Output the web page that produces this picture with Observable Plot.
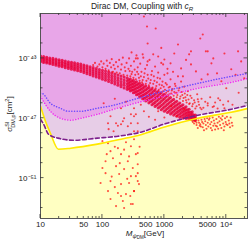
<!DOCTYPE html>
<html><head><meta charset="utf-8">
<script src="https://cdn.jsdelivr.net/npm/d3@7"></script>
<script src="https://cdn.jsdelivr.net/npm/@observablehq/plot@0.6"></script>
<style>body{margin:0;background:#fff} svg{display:block}</style>
</head><body><div id="chart"></div>
<script>
// ---- data (log10 M [GeV], log10 sigma [cm^2]) ----
const xTickValues = [10, 50, 100, 500, 1000, 5000, 10000];
const xTickLabels = ["10", "50", "100", "500", "1000", "5000", "10\u2074"];
const yTickValues = [1e-43, 1e-47, 1e-51];
const yTickLabels = ["10\u207B\u2074\u00B3", "10\u207B\u2074\u2077", "10\u207B\u2075\u00B9"];

const blueM = [1, 1.03, 1.16, 1.32, 1.44, 1.65, 1.92, 2.18, 2.46, 2.99, 3.54, 4.08, 4.36];
const blueS = [-45.33, -45.35, -46.0, -46.33, -46.53, -46.53, -46.33, -46.13, -45.8, -45.2, -44.67, -44.2, -44.0];
const magM = [1, 1.16, 1.32, 1.49, 1.65, 1.92, 2.18, 2.46, 2.99, 3.54, 4.08, 4.36];
const magS = [-45.53, -46.53, -47.0, -47.13, -47.0, -46.73, -46.4, -46.07, -45.53, -45.0, -44.6, -44.33];
const dashM = [1, 1.05, 1.13, 1.28, 1.53, 1.92, 2.25, 2.62, 2.99, 3.54, 4.08, 4.36];
const dashS = [-47.07, -47.4, -48.07, -48.33, -48.47, -48.33, -48.2, -47.93, -47.4, -46.8, -46.4, -46.13];
const yelM = [1, 1.08, 1.16, 1.29, 1.49, 1.92, 2.30, 2.62, 2.99, 3.54, 4.08, 4.36];
const yelS = [-46.2, -47.2, -48.0, -49.07, -49.0, -48.73, -48.4, -48.1, -47.6, -47.0, -46.6, -46.33];

const bandM = [1.00,1.05,1.10,1.15,1.20,1.25,1.30,1.35,1.40,1.45,1.50,1.55,1.60,1.65,1.70,1.75,1.80,1.85,1.90,1.95,
  2.00,2.05,2.10,2.15,2.20,2.25,2.30,2.35,2.40,2.45,2.50,2.55,2.60,2.65,2.70,2.75,2.80,2.85,2.90,2.95,
  3.00,3.05,3.10,3.15,3.20,3.25,3.30,3.35,3.40,3.45,3.50];
const bandS = [
 [-42.84,-42.95,-43.05,-43.14,-43.22],[-42.88,-42.99,-43.08,-43.18,-43.27],[-42.92,-43.02,-43.13,-43.22,-43.31],
 [-42.97,-43.08,-43.17,-43.27,-43.36],[-43.00,-43.11,-43.21,-43.31,-43.41],[-43.05,-43.16,-43.27,-43.36,-43.46],
 [-43.09,-43.20,-43.31,-43.41,-43.52],[-43.13,-43.25,-43.35,-43.46,-43.56],[-43.17,-43.29,-43.40,-43.51,-43.62],
 [-43.22,-43.34,-43.45,-43.56,-43.67],[-43.26,-43.38,-43.49,-43.60,-43.72],[-43.30,-43.42,-43.54,-43.66,-43.77],
 [-43.34,-43.47,-43.59,-43.71,-43.83],[-43.38,-43.51,-43.63,-43.76,-43.88],[-43.44,-43.57,-43.70,-43.83,-43.95],
 [-43.50,-43.63,-43.76,-43.89,-44.02],[-43.56,-43.70,-43.83,-43.96,-44.09],[-43.62,-43.76,-43.90,-44.03,-44.17],
 [-43.68,-43.82,-43.96,-44.10,-44.24],[-43.74,-43.89,-44.03,-44.17,-44.31],[-43.80,-43.95,-44.10,-44.25,-44.39],
 [-43.85,-44.01,-44.16,-44.31,-44.46],[-43.91,-44.07,-44.23,-44.39,-44.54],[-43.97,-44.14,-44.30,-44.46,-44.62],
 [-44.04,-44.21,-44.38,-44.55,-44.71],[-44.11,-44.29,-44.46,-44.63,-44.80],[-44.18,-44.36,-44.54,-44.72,-44.89],
 [-44.25,-44.44,-44.62,-44.80,-44.98],[-44.32,-44.51,-44.70,-44.89,-45.07],[-44.38,-44.58,-44.78,-44.98,-45.17],
 [-44.47,-44.68,-44.89,-45.10,-45.30],[-44.56,-44.78,-45.00,-45.22,-45.43],[-44.66,-44.89,-45.12,-45.35,-45.57],
 [-44.75,-44.99,-45.23,-45.47,-45.70],[-44.85,-45.10,-45.35,-45.60,-45.84],[-44.94,-45.20,-45.46,-45.72,-45.97],
 [-45.03,-45.30,-45.57,-45.84,-46.10],[-45.12,-45.40,-45.67,-45.94,-46.21],[-45.21,-45.49,-45.77,-46.05,-46.32],
 [-45.30,-45.59,-45.87,-46.15,-46.43],[-45.40,-45.69,-45.97,-46.25,-46.53],[-45.50,-45.79,-46.07,-46.35,-46.62],
 [-45.62,-45.90,-46.17,-46.44,-46.71],[-45.74,-46.01,-46.27,-46.53,-46.79],[-45.86,-46.12,-46.37,-46.62,-46.87],
 [-45.98,-46.22,-46.46,-46.70,-46.94],[-46.10,-46.33,-46.55,-46.77,-46.99],[-46.24,-46.44,-46.63,-46.82,-47.02],
 [-46.40,-46.58,-46.75,-46.92,-47.08],[-46.57,-46.72,-46.87,-47.00,-47.12],[-46.78,-46.90,-47.00,-47.08,-47.15]];

const bandM2 = [2.425,2.475,2.525,2.575,2.625,2.675,2.725,2.775,2.825,2.875,2.925,2.975,
  3.025,3.075,3.125,3.175,3.225,3.275,3.325,3.375,3.425,3.475];
const bandS2 = [
 [-44.44,-44.64,-44.84,-45.03],[-44.52,-44.73,-44.93,-45.13],[-44.62,-44.84,-45.06,-45.27],[-44.72,-44.95,-45.18,-45.40],
 [-44.82,-45.06,-45.30,-45.53],[-44.92,-45.17,-45.41,-45.66],[-45.02,-45.28,-45.53,-45.78],[-45.11,-45.38,-45.64,-45.90],
 [-45.20,-45.48,-45.75,-46.02],[-45.29,-45.58,-45.85,-46.13],[-45.38,-45.67,-45.96,-46.24],[-45.48,-45.77,-46.06,-46.34],
 [-45.58,-45.87,-46.16,-46.44],[-45.69,-45.98,-46.26,-46.53],[-45.81,-46.09,-46.35,-46.62],[-45.93,-46.19,-46.45,-46.70],
 [-46.05,-46.30,-46.54,-46.78],[-46.17,-46.40,-46.62,-46.85],[-46.30,-46.50,-46.70,-46.90],[-46.44,-46.62,-46.80,-46.97],
 [-46.60,-46.76,-46.92,-47.05],[-46.78,-46.88,-47.00,-47.10]];

const cloudAbove = [[1.85,-43.45],[1.88,-43.3],[1.92,-43.55],[1.95,-43.4],[1.98,-43.2],[2.00,-43.6],[2.02,-43.35],[2.05,-43.7],
 [2.07,-43.15],[2.08,-43.5],[2.10,-43.8],[2.12,-43.3],[2.14,-43.6],[2.15,-43.05],[2.17,-43.9],[2.18,-43.45],[2.20,-43.7],
 [2.22,-43.25],[2.23,-43.95],[2.25,-43.55],[2.27,-43.1],[2.28,-44.0],[2.30,-43.75],[2.31,-43.4],[2.33,-42.95],[2.34,-44.1],
 [2.36,-43.6],[2.37,-43.85],[2.39,-43.3],[2.40,-44.15],[2.42,-43.7],[2.43,-43.0],[2.45,-44.2],[2.46,-43.5],[2.48,-43.9],
 [2.50,-44.3],[2.51,-43.2],[2.52,-43.75],[2.54,-44.4],[2.55,-42.8],[2.57,-43.6],[2.58,-44.05],[2.60,-44.5],[2.61,-43.35],
 [2.63,-43.9],[2.64,-44.6],[2.66,-42.95],[2.67,-44.25],[2.69,-43.7],[2.70,-44.7],[2.72,-43.45],[2.73,-44.1],[2.75,-44.8],
 [2.76,-43.1],[2.78,-44.45],[2.80,-43.85],[2.81,-44.95],[2.83,-44.2],[2.85,-43.55],[2.86,-45.0],[2.88,-44.6],[2.90,-43.95],
 [2.91,-45.1],[2.93,-44.35],[2.95,-43.3],[2.96,-44.8],[2.98,-45.2],[3.00,-44.1],[3.02,-44.65],[3.03,-45.3],[3.05,-43.7],
 [3.07,-44.95],[3.08,-45.4],[3.10,-44.4],[3.12,-45.15],[3.14,-43.9],[3.15,-45.5],[3.17,-44.7],[3.19,-45.3],[3.20,-45.6],
 [3.22,-44.2],[3.24,-45.0],[3.25,-45.7],[3.27,-44.55],[3.29,-45.45],[3.30,-45.85],[3.32,-44.9],[3.34,-45.6],[3.36,-45.95],
 [3.38,-45.2],[3.40,-46.05],[3.42,-45.5],[3.45,-46.2],[3.48,-45.8],[3.50,-46.35],[3.53,-45.4],[3.56,-46.1],[3.60,-45.7],
 [3.63,-46.3],[3.66,-45.9],[3.70,-46.15],[3.74,-45.6],[3.78,-46.25],[3.82,-45.95],[3.86,-46.35],[3.90,-45.8],[3.95,-46.1],
 [2.62,-44.2],[2.65,-44.45],[2.68,-44.0],[2.71,-44.5],[2.74,-44.35],[2.77,-44.65],[2.79,-44.1],[2.82,-44.7],[2.84,-44.5],
 [2.87,-44.85],[2.89,-44.3],[2.92,-44.75],[2.94,-45.0],[2.97,-44.55],[2.99,-44.9],[3.01,-45.1],[3.04,-44.75],[3.06,-45.2],
 [3.09,-44.9],[3.11,-45.35],[3.13,-45.05],[3.16,-45.25],[3.18,-44.85],[3.21,-45.45],[3.23,-45.15],[3.26,-45.55],[3.28,-45.25],
 [3.31,-45.65],[3.33,-45.35],[3.35,-45.8],[3.37,-45.45],[3.39,-45.75],[3.41,-46.0],[3.44,-45.65],[3.46,-46.05],[3.49,-45.95],
 [3.52,-46.2],[3.55,-45.9],[3.58,-46.3],[2.56,-43.9],[2.59,-44.3],[2.53,-44.1],[2.47,-44.05],[2.44,-43.85]];

const sparseTop = [[2.67,-40.2],[2.72,-40.87],[2.86,-41.0],[3.62,-41.4],[3.58,-41.67],[3.22,-42.07],[2.73,-42.0],[3.16,-42.67],
 [3.43,-42.53],[3.67,-42.53],[2.82,-42.73],[2.9,-42.87],[2.65,-42.73],[2.57,-43.0],[2.73,-43.2],[3.0,-43.07],[2.98,-43.4],
 [3.1,-43.33],[3.79,-43.0],[3.76,-43.33],[3.97,-42.67],[3.7,-42.53],[4.19,-42.53],[3.4,-42.73],[3.43,-43.4],[4.08,-43.73],
 [4.24,-43.2],[4.29,-44.33],[3.7,-44.07],[3.92,-44.53],[3.51,-43.87],[3.27,-43.67],[2.54,-43.0],[2.47,-42.6],[2.95,-42.3],
 [3.35,-43.1],[3.85,-44.0],[4.15,-44.1],[3.6,-44.4],[4.0,-45.0],[4.2,-45.3],[3.3,-44.2],[3.05,-44.0]];

const lavenderPts = [[2.51,-46.33],[2.54,-46.73],[2.67,-46.53],[2.9,-46.53],[3.11,-46.2],[3.32,-46.4],[3.54,-45.73],[3.7,-46.0],
 [3.87,-45.67],[4.03,-45.87],[3.8,-46.2],[3.97,-46.33],[2.02,-46.0],[2.13,-46.87],[2.3,-46.33],[2.46,-46.73],[2.41,-47.53],
 [2.18,-47.87],[2.51,-47.87],[2.33,-47.2],[2.09,-47.33],[2.57,-47.33],[2.75,-46.9],[2.85,-47.1],[3.2,-46.85],[3.0,-46.95],
 [3.6,-46.4],[4.1,-46.1],[2.62,-46.1],[2.2,-45.7],[2.38,-45.9],[2.25,-47.5]];

const orangePts = [[3.46,-47.25],[3.48,-47.35],[3.50,-47.2],[3.52,-47.3],[3.52,-47.45],[3.55,-47.15],[3.56,-47.3],[3.57,-47.5],
 [3.58,-47.4],[3.60,-47.1],[3.61,-47.25],[3.62,-47.6],[3.63,-47.35],[3.65,-47.05],[3.66,-47.2],[3.67,-47.45],[3.68,-47.7],
 [3.70,-47.3],[3.71,-47.55],[3.72,-47.1],[3.73,-47.0],[3.74,-47.4],[3.75,-47.65],[3.76,-47.25],[3.78,-46.95],[3.79,-47.5],
 [3.80,-47.15],[3.81,-47.35],[3.82,-47.75],[3.84,-47.05],[3.85,-47.55],[3.86,-47.3],[3.88,-46.9],[3.89,-47.2],[3.90,-47.45],
 [3.92,-47.65],[3.93,-47.1],[3.94,-46.85],[3.95,-47.35],[3.97,-47.55],[3.98,-47.0],[3.99,-47.25],[4.01,-46.9],[4.02,-47.45],
 [4.04,-47.15],[4.06,-47.6],[4.07,-46.95],[4.09,-47.3],[4.10,-47.5],[3.59,-47.55],[3.64,-47.8],[3.69,-47.0],[3.77,-47.8],
 [3.83,-47.5],[3.87,-47.7],[3.91,-47.0],[3.96,-47.8],[4.0,-47.4],[4.05,-47.35],[3.54,-47.65]];

const verticalCloud = [[2.22,-47.33],[2.3,-47.4],[2.35,-47.0],[2.46,-47.33],[2.51,-46.87],[2.0,-48.53],[2.09,-48.67],[2.13,-49.2],
 [2.25,-49.0],[2.46,-48.87],[2.3,-49.4],[2.17,-49.67],[2.41,-49.87],[2.0,-50.33],[2.22,-50.2],[2.35,-50.4],[2.49,-50.33],
 [2.05,-50.67],[2.27,-50.73],[2.46,-50.87],[2.57,-50.67],[1.97,-51.33],[2.13,-51.2],[2.3,-51.4],[2.43,-51.33],[2.09,-51.87],
 [2.25,-52.0],[2.38,-52.07],[2.51,-51.87],[2.13,-52.4],[2.33,-52.53],[2.46,-52.73],[2.22,-52.87],[2.35,-53.0],[2.05,-49.87],
 [2.57,-49.33],[2.1,-47.73],[2.57,-47.87],[2.51,-48.4],[2.54,-49.4],[2.57,-50.07],[2.54,-50.87],[2.57,-51.2],[2.51,-51.87],
 [2.49,-52.73],[2.59,-51.4],[2.38,-48.6],[2.2,-48.9],[2.43,-49.55],[2.28,-50.0],[2.15,-50.9],[2.4,-51.05],[2.2,-51.6],
 [2.45,-52.2],[2.3,-52.2],[2.6,-48.9],[2.07,-49.4],[2.35,-49.1]];

// ---- build tables ----
const toRows = (M, S) => M.map((m, i) => ({M: 10 ** m, S: 10 ** S[i]}));
const blue = toRows(blueM, blueS), mag = toRows(magM, magS), dash = toRows(dashM, dashS), yel = toRows(yelM, yelS);
const band = [];
bandM.forEach((m, i) => bandS[i].forEach(s => band.push({M: 10 ** m, S: 10 ** s})));
bandM2.forEach((m, i) => bandS2[i].forEach(s => band.push({M: 10 ** m, S: 10 ** s})));
const pts = [];
for (const arr of [cloudAbove, sparseTop, lavenderPts, orangePts, verticalCloud])
  for (const [m, s] of arr) pts.push({M: 10 ** m, S: 10 ** s});

const YMIN = 10 ** -53.7, YMAX = 1e-40, XMIN = 10, XMAX = 2.2e4;
const PINK = "#e8a6e8", LAV = "#e7cde7", YEL = "#ffffc2";
const curve = "monotone-x";
const font = "'Liberation Sans', Arial, sans-serif";

const plot = Plot.plot({
  width: 249, height: 249,
  marginTop: 13, marginLeft: 40, marginRight: 2, marginBottom: 31,
  style: {fontFamily: font, fontSize: "8px", background: "white", color: "#222"},
  x: {type: "log", domain: [XMIN, XMAX], axis: null},
  y: {type: "log", domain: [YMIN, YMAX], axis: null},
  marks: [
    Plot.frame({fill: PINK, stroke: null}),
    Plot.areaY(mag, {x: "M", y1: () => YMIN, y2: "S", fill: LAV, curve, clip: true}),
    Plot.areaY(dash, {x: "M", y1: () => YMIN, y2: "S", fill: "white", curve, clip: true}),
    Plot.areaY(yel, {x: "M", y1: () => YMIN, y2: "S", fill: YEL, curve, clip: true}),
    Plot.dot(band, {x: "M", y: "S", r: 1.55, fill: "#e8003a", fillOpacity: 0.82, stroke: null, clip: true}),
    Plot.dot(pts, {x: "M", y: "S", r: 1.05, fill: "#ff0000", fillOpacity: 0.68, stroke: null, clip: true}),
    Plot.line(yel, {x: "M", y: "S", stroke: "#ffe800", strokeWidth: 1.6, curve, clip: true}),
    Plot.line(dash, {x: "M", y: "S", stroke: "#7d1f8c", strokeWidth: 1.6, strokeDasharray: "4,2.5", curve, clip: true}),
    Plot.line(mag, {x: "M", y: "S", stroke: "#f02cf0", strokeWidth: 1.5, strokeDasharray: "0.1,2.6", strokeLinecap: "round", curve, clip: true}),
    Plot.line(blue, {x: "M", y: "S", stroke: "#6a48ff", strokeWidth: 1.5, strokeDasharray: "0.1,2.6", strokeLinecap: "round", curve, clip: true}),
    Plot.text(xTickValues, {x: d => d, frameAnchor: "bottom", dy: 8, text: (d, i) => xTickLabels[i], fill: "#222"}),
    Plot.text(yTickValues, {y: d => d, frameAnchor: "left", dx: -4, textAnchor: "end", text: (d, i) => yTickLabels[i], fill: "#222"}),
    Plot.frame({stroke: "#555", strokeWidth: 1})
  ]
});

// inward frame ticks, positioned through the plot's own scales
const sx = plot.scale("x"), sy = plot.scale("y");
const svg = d3.select(plot);
const g = svg.append("g").attr("stroke", "#333").attr("stroke-width", 0.8);
const x0 = 40, x1 = 247, y0 = 13, y1 = 218;
for (let e = 1; e <= 4; e++) for (let k = 1; k <= 9; k++) {
  const v = k * 10 ** e; if (v > XMAX) continue;
  const px = sx.apply(v), L = k === 1 ? 4 : 2;
  g.append("line").attr("x1", px).attr("x2", px).attr("y1", y1).attr("y2", y1 - L);
  g.append("line").attr("x1", px).attr("x2", px).attr("y1", y0).attr("y2", y0 + L);
}
for (let e = -53; e <= -41; e++) {
  const py = sy.apply(10 ** e), L = (e === -43 || e === -47 || e === -51) ? 3.5 : 2.5;
  g.append("line").attr("x1", x0).attr("x2", x0 + L).attr("y1", py).attr("y2", py);
  g.append("line").attr("x1", x1).attr("x2", x1 - L).attr("y1", py).attr("y2", py);
}

// title and axis labels
const t = svg.append("text").attr("x", 142).attr("y", 9).attr("text-anchor", "middle")
  .attr("font-family", font).attr("font-size", 8.5).attr("fill", "#222");
t.append("tspan").text("Dirac DM, Coupling with ");
t.append("tspan").attr("font-style", "italic").text("c");
t.append("tspan").attr("font-style", "italic").attr("font-size", 6).attr("dy", 2).text("R");

const xl = svg.append("text").attr("x", 145).attr("y", 236).attr("text-anchor", "middle")
  .attr("font-family", font).attr("font-size", 8).attr("fill", "#222");
xl.append("tspan").attr("font-style", "italic").text("M");
xl.append("tspan").attr("font-style", "italic").attr("font-size", 6).attr("dy", 2).text("\u03C8");
xl.append("tspan").attr("font-size", 4.5).attr("dy", 1.2).text("DM");
xl.append("tspan").attr("dy", -3.2).text("[GeV]");

const yl = svg.append("text").attr("transform", "translate(12,114) rotate(-90)").attr("text-anchor", "middle")
  .attr("font-family", font).attr("font-size", 8).attr("fill", "#222");
yl.append("tspan").attr("font-style", "italic").text("\u03C3");
yl.append("tspan").attr("font-size", 5.5).attr("dy", -3.5).text("SI");
yl.append("tspan").attr("font-size", 5.5).attr("dx", -6).attr("dy", 6.5).text("DM,p");
yl.append("tspan").attr("dy", -3).text("[cm");
yl.append("tspan").attr("font-size", 5.5).attr("dy", -3).text("2");
yl.append("tspan").attr("dy", 3).text("]");

document.getElementById("chart").appendChild(plot);
</script></body></html>
